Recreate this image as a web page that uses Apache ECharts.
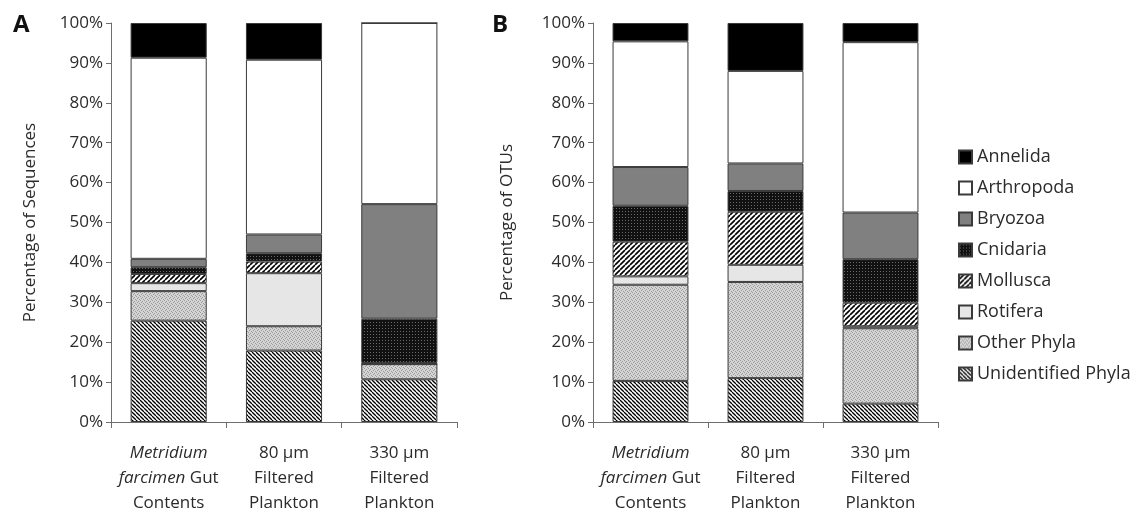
<!DOCTYPE html>
<html>
<head>
<meta charset="utf-8">
<script src="https://cdn.jsdelivr.net/npm/echarts@6/dist/echarts.min.js"></script>
<style>
  html, body { margin: 0; padding: 0; background: #fff; }
  #main { width: 1139px; height: 516px; }
</style>
</head>
<body>
<div id="main"></div>
<script>
  // categories (bottom axis), same for both panels
  const categories = ['Metridium\nfarcimen Gut\nContents', '80 µm\nFiltered\nPlankton', '330 µm\nFiltered\nPlankton'];
  // stacking order, bottom to top
  const phyla = ['Unidentified Phyla', 'Other Phyla', 'Rotifera', 'Mollusca', 'Cnidaria', 'Bryozoa', 'Arthropoda', 'Annelida'];

  // panel A: percentage of sequences
  const seqUnidentified = [25.4, 17.9, 10.7];
  const seqOther        = [7.4, 6.1, 3.8];
  const seqRotifera     = [2.0, 13.3, 0];
  const seqMollusca     = [2.3, 2.9, 0.3];
  const seqCnidaria     = [1.7, 2.1, 11.1];
  const seqBryozoa      = [2.1, 4.7, 28.7];
  const seqArthropoda   = [50.4, 43.8, 45.4];
  const seqAnnelida     = [8.7, 9.2, 0];

  // panel B: percentage of OTUs
  const otuUnidentified = [10.3, 11.0, 4.6];
  const otuOther        = [24.1, 24.1, 18.9];
  const otuRotifera     = [2.1, 4.3, 0.5];
  const otuMollusca     = [8.7, 13.3, 5.9];
  const otuCnidaria     = [9.0, 5.2, 10.9];
  const otuBryozoa      = [9.7, 6.9, 11.7];
  const otuArthropoda   = [31.5, 23.2, 42.7];
  const otuAnnelida     = [4.6, 12.0, 4.8];

  const seqData = [seqUnidentified, seqOther, seqRotifera, seqMollusca, seqCnidaria, seqBryozoa, seqArthropoda, seqAnnelida];
  const otuData = [otuUnidentified, otuOther, otuRotifera, otuMollusca, otuCnidaria, otuBryozoa, otuArthropoda, otuAnnelida];

  // small canvas tiles for the hatch fills
  function tile(size, draw) {
    const c = document.createElement('canvas');
    c.width = size; c.height = size;
    draw(c.getContext('2d'), size);
    return { image: c, repeat: 'repeat' };
  }
  const hatchBack = tile(4, (ctx, s) => {          // "\" dense stripes
    ctx.fillStyle = '#fff'; ctx.fillRect(0, 0, s, s);
    ctx.strokeStyle = '#000'; ctx.lineWidth = 1.3;
    for (let k = -s; k <= s; k += s) {
      ctx.beginPath(); ctx.moveTo(k, 0); ctx.lineTo(k + s, s); ctx.stroke();
    }
  });
  const hatchFwd = tile(5, (ctx, s) => {           // "/" stripes
    ctx.fillStyle = '#fff'; ctx.fillRect(0, 0, s, s);
    ctx.strokeStyle = '#000'; ctx.lineWidth = 1.6;
    for (let k = 0; k <= 2 * s; k += s) {
      ctx.beginPath(); ctx.moveTo(k, 0); ctx.lineTo(k - s, s); ctx.stroke();
    }
  });
  const speckle = tile(4, (ctx, s) => {            // light grey weave
    ctx.fillStyle = '#d4d4d4'; ctx.fillRect(0, 0, s, s);
    ctx.fillStyle = '#9a9a9a';
    ctx.fillRect(0, 0, 1, 1); ctx.fillRect(2, 1, 1, 1);
    ctx.fillRect(1, 2, 1, 1); ctx.fillRect(3, 3, 1, 1);
  });
  const darkDots = tile(3, (ctx, s) => {           // dark dotted
    ctx.fillStyle = '#111'; ctx.fillRect(0, 0, s, s);
    ctx.fillStyle = '#6a6a6a'; ctx.fillRect(1, 1, 1, 1);
  });

  const fills = [hatchBack, speckle, '#e6e6e6', hatchFwd, darkDots, '#808080', '#ffffff', '#000000'];

  const font = '"Open Sans", sans-serif';
  const textColor = '#2b2b2b';

  function makeSeries(data, idx) {
    return phyla.map((name, i) => ({
      name: name,
      type: 'bar',
      stack: 'panel' + idx,
      xAxisIndex: idx,
      yAxisIndex: idx,
      barWidth: '66%',
      itemStyle: { color: fills[i], borderColor: '#3a3a3a', borderWidth: 1 },
      emphasis: { disabled: true },
      data: data[i]
    }));
  }

  function xAxis(idx) {
    return {
      type: 'category',
      gridIndex: idx,
      data: categories,
      axisLine: { lineStyle: { color: '#6e6e6e', width: 1 } },
      axisTick: { show: true, length: 6, lineStyle: { color: '#6e6e6e' } },
      axisLabel: {
        interval: 0,
        margin: 19,
        color: textColor,
        fontFamily: font,
        fontSize: 17,
        lineHeight: 25,
        formatter: v => v.replace('Metridium', '{i|Metridium}').replace('farcimen', '{i|farcimen}'),
        rich: { i: { fontStyle: 'italic', fontFamily: font, fontSize: 17, color: textColor, lineHeight: 25 } }
      }
    };
  }

  function yAxis(idx, title, gap) {
    return {
      type: 'value',
      gridIndex: idx,
      min: 0, max: 100, interval: 10,
      name: title,
      nameLocation: 'middle',
      nameGap: gap,
      nameTextStyle: { color: textColor, fontFamily: font, fontSize: 17 },
      splitLine: { show: false },
      axisLine: { show: true, lineStyle: { color: '#6e6e6e', width: 1 } },
      axisTick: { show: true, length: 5, lineStyle: { color: '#6e6e6e' } },
      axisLabel: { formatter: '{value}%', margin: 8, color: textColor, fontFamily: font, fontSize: 17 }
    };
  }

  const chart = echarts.init(document.getElementById('main'));
  chart.setOption({
    backgroundColor: '#fff',
    animation: false,
    title: [
      { text: 'A', left: 8, top: 8, textStyle: { fontFamily: font, fontWeight: 'bold', fontSize: 24, color: '#111' } },
      { text: 'B', left: 487, top: 8, textStyle: { fontFamily: font, fontWeight: 'bold', fontSize: 24, color: '#111' } }
    ],
    legend: {
      orient: 'vertical',
      left: 953,
      top: 143,
      itemWidth: 13,
      itemHeight: 13,
      itemGap: 13,
      icon: 'rect',
      textStyle: { color: textColor, fontFamily: font, fontSize: 18 },
      data: phyla.slice().reverse()
    },
    grid: [
      { left: 111, top: 23, width: 346, height: 401 },
      { left: 593, top: 23, width: 345, height: 401 }
    ],
    xAxis: [xAxis(0), xAxis(1)],
    yAxis: [yAxis(0, 'Percentage of Sequences', 72), yAxis(1, 'Percentage of OTUs', 77)],
    series: makeSeries(seqData, 0).concat(makeSeries(otuData, 1))
  });
</script>
</body>
</html>
